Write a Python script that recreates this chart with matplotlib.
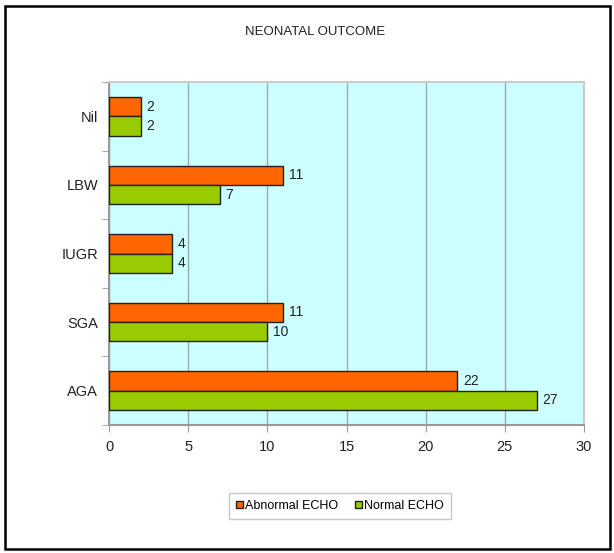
import matplotlib as mpl
mpl.use('Agg')
import matplotlib.pyplot as plt
from matplotlib.patches import Rectangle
import numpy as np

categories = ['AGA', 'SGA', 'IUGR', 'LBW', 'Nil']
abnormal_echo = [22, 11, 4, 11, 2]
normal_echo = [27, 10, 4, 7, 2]
x_ticks = [0, 5, 10, 15, 20, 25, 30]

plt.rcParams['font.family'] = ['Liberation Sans Narrow', 'Liberation Sans', 'DejaVu Sans']

W, H = 614, 553
fig = plt.figure(figsize=(W / 100, H / 100), dpi=100)

# outer frame
fig.patches.append(Rectangle((5 / W, 1 - 549 / H), 605 / W, 543 / H,
                             transform=fig.transFigure, fill=False,
                             edgecolor='black', linewidth=1.8))

left, right, top, bottom = 109, 584, 82, 425
ax = fig.add_axes([left / W, 1 - bottom / H, (right - left) / W, (bottom - top) / H])
ax.set_facecolor('#CCFFFF')

y = np.arange(len(categories))
h = 0.28
ax.barh(y + h / 2, abnormal_echo, height=h, color='#FF6600', edgecolor='#222222',
        linewidth=1, label='Abnormal ECHO', zorder=3)
ax.barh(y - h / 2, normal_echo, height=h, color='#99CC00', edgecolor='#222222',
        linewidth=1, label='Normal ECHO', zorder=3)

for i in range(len(categories)):
    ax.text(abnormal_echo[i] + 0.35, y[i] + h / 2, str(abnormal_echo[i]),
            va='center', ha='left', fontsize=10, color='#222222')
    ax.text(normal_echo[i] + 0.35, y[i] - h / 2, str(normal_echo[i]),
            va='center', ha='left', fontsize=10, color='#222222')

ax.set_xlim(0, 30)
ax.set_ylim(-0.5, len(categories) - 0.5)
ax.set_xticks(x_ticks)
ax.set_xticklabels([str(t) for t in x_ticks], fontsize=10.5, color='#222222')
ax.set_yticks(y)
ax.set_yticklabels(categories, fontsize=10.5, color='#222222')
ax.tick_params(axis='y', length=0, pad=8)
ax.set_yticks(np.arange(-0.5, len(categories)), minor=True)
ax.tick_params(axis='y', which='minor', length=5, color='#999999')
ax.tick_params(axis='x', length=5, color='#999999', pad=6)
ax.grid(axis='x', color='#99AAAA', linewidth=1, zorder=0)

for s in ['left', 'bottom']:
    ax.spines[s].set_color('#999999')
    ax.spines[s].set_linewidth(1.5)
for s in ['top', 'right']:
    ax.spines[s].set_color('#CCCCCC')
    ax.spines[s].set_linewidth(1.5)

fig.text(315 / W, 1 - 32 / H, 'NEONATAL OUTCOME', ha='center', va='center',
         fontsize=9.5, color='#222222')

leg = fig.legend(loc='center', bbox_to_anchor=(340 / W, 1 - 506 / H), ncol=2,
                 fontsize=9, frameon=True, fancybox=False, handlelength=0.55,
                 handleheight=0.55, handletextpad=0.2, columnspacing=1.3,
                 borderpad=0.55)
leg.get_frame().set_edgecolor('#BBBBBB')
leg.get_frame().set_linewidth(1)

fig.savefig('out.png', dpi=100)
